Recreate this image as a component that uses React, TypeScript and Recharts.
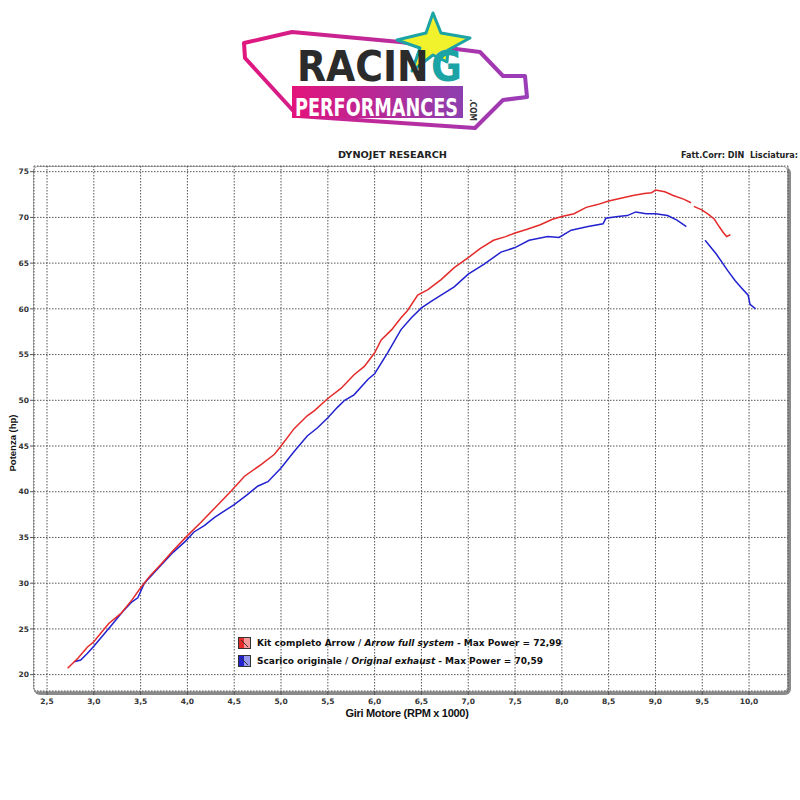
import React from 'react';
import { LineChart, Line, XAxis, YAxis, CartesianGrid, Legend } from 'recharts';

// ---- data (rpm x 1000, hp) ----
const arrowRpm = [2.72, 2.83, 2.93, 3.0, 3.08, 3.16, 3.29, 3.41, 3.5, 3.6, 3.72, 3.85, 4.0, 4.14, 4.29, 4.47, 4.61, 4.79, 4.93, 5.0, 5.14, 5.28, 5.36, 5.5, 5.64, 5.78, 5.89, 6.0, 6.07, 6.18, 6.28, 6.35, 6.46, 6.57, 6.71, 6.85, 7.0, 7.13, 7.27, 7.4, 7.5, 7.63, 7.77, 7.9, 8.0, 8.13, 8.26, 8.38, 8.5, 8.63, 8.76, 8.88, 8.96, 9.0, 9.1, 9.19, 9.3, 9.38, 9.395, 9.41, 9.5, 9.57, 9.63, 9.68, 9.72, 9.76, 9.8];
const arrowHp = [20.7, 21.8, 23.0, 23.6, 24.6, 25.6, 26.7, 28.2, 29.5, 30.8, 32.1, 33.6, 35.2, 36.6, 38.2, 40.1, 41.7, 43.0, 44.1, 45.0, 46.9, 48.3, 48.9, 50.2, 51.3, 52.8, 53.7, 55.2, 56.6, 57.7, 59.0, 59.8, 61.5, 62.1, 63.2, 64.5, 65.6, 66.6, 67.5, 67.9, 68.3, 68.7, 69.2, 69.8, 70.1, 70.4, 71.1, 71.4, 71.8, 72.1, 72.4, 72.6, 72.7, 73.0, 72.8, 72.4, 72.0, 71.6, null, 71.2, 70.8, 70.3, 69.8, 69.0, 68.4, 67.9, 68.1];

const stockRpm = [2.79, 2.86, 2.93, 3.0, 3.09, 3.18, 3.31, 3.4, 3.47, 3.54, 3.72, 3.85, 3.98, 4.07, 4.18, 4.29, 4.5, 4.63, 4.75, 4.86, 5.0, 5.14, 5.28, 5.39, 5.5, 5.6, 5.68, 5.78, 5.93, 6.0, 6.14, 6.28, 6.39, 6.5, 6.6, 6.71, 6.85, 7.0, 7.17, 7.35, 7.5, 7.65, 7.85, 7.97, 8.1, 8.28, 8.44, 8.47, 8.6, 8.7, 8.79, 8.9, 9.0, 9.13, 9.23, 9.33, 9.43, 9.53, 9.65, 9.77, 9.85, 9.91, 9.99, 10.01, 10.07];
const stockHp = [21.4, 21.6, 22.3, 23.1, 24.2, 25.3, 26.9, 27.9, 28.4, 30.0, 32.0, 33.4, 34.6, 35.6, 36.3, 37.2, 38.6, 39.6, 40.6, 41.1, 42.6, 44.4, 46.1, 47.0, 48.1, 49.2, 50.0, 50.6, 52.3, 52.9, 55.2, 57.7, 59.0, 60.1, 60.8, 61.5, 62.4, 63.8, 64.9, 66.2, 66.7, 67.5, 67.9, 67.8, 68.6, 69.0, 69.3, 69.9, 70.1, 70.2, 70.6, 70.4, 70.4, 70.2, 69.7, 69.0, null, 67.5, 66.0, 64.2, 63.1, 62.4, 61.5, 60.5, 60.0];

const xTicks = [2.5, 3.0, 3.5, 4.0, 4.5, 5.0, 5.5, 6.0, 6.5, 7.0, 7.5, 8.0, 8.5, 9.0, 9.5, 10.0];
const yTicks = [20, 25, 30, 35, 40, 45, 50, 55, 60, 65, 70, 75];
const xMinorTicks = Array.from({ length: 80 }, (_, i) => Math.round((2.4 + i * 0.1) * 10) / 10).filter((v) => v <= 10.4);
const yMinorTicks = Array.from({ length: 57 }, (_, i) => 19 + i).filter((v) => v <= 75);

const seriesNames = [
  { name: 'Kit completo Arrow', italic: 'Arrow full system', max: '72,99', color: '#e52a2a', light: '#f59a9a' },
  { name: 'Scarico originale', italic: 'Original exhaust', max: '70,59', color: '#2222d0', light: '#9a9af0' },
];

const arrowData = arrowRpm.map((r, i) => ({ rpm: r, hp: arrowHp[i] }));
const stockData = stockRpm.map((r, i) => ({ rpm: r, hp: stockHp[i] }));

const FONT = '"DejaVu Sans", Verdana, sans-serif';
const X_DOMAIN: [number, number] = [2.361, 10.416];
const Y_DOMAIN: [number, number] = [18.21, 75.62];

const fmt = (v: number) => v.toFixed(1).replace('.', ',');

const LegendContent = () => (
  <div style={{ fontFamily: FONT, fontSize: 9, fontWeight: 'bold', color: '#111', lineHeight: '18px' }}>
    {seriesNames.map((s) => (
      <div key={s.name} style={{ display: 'flex', alignItems: 'center', whiteSpace: 'nowrap' }}>
        <svg width={13} height={12} style={{ marginRight: 6 }}>
          <defs>
            <linearGradient id={'g' + s.max} x1="0" y1="0" x2="1" y2="0">
              <stop offset="0" stopColor={s.color} />
              <stop offset="0.5" stopColor={s.color} />
              <stop offset="0.5" stopColor={s.light} />
              <stop offset="1" stopColor={s.light} />
            </linearGradient>
          </defs>
          <rect x={0.5} y={0.5} width={12} height={11} fill={`url(#g${s.max})`} stroke="#333" strokeWidth={1} />
          <line x1={3} y1={3} x2={10} y2={10} stroke="#333" strokeWidth={1} />
        </svg>
        <span>{s.name} / </span>
        <span style={{ fontStyle: 'italic', marginLeft: 3 }}>{s.italic}</span>
        <span style={{ marginLeft: 3 }}>- Max Power = {s.max}</span>
      </div>
    ))}
  </div>
);

const LOGO_FONT = '"DejaVu Sans Condensed", "DejaVu Sans", sans-serif';

const Logo = () => (
  <svg width={800} height={140} style={{ position: 'absolute', left: 0, top: 0 }}>
    <defs>
      <linearGradient id="lgOutline" x1="0" y1="0" x2="1" y2="0">
        <stop offset="0" stopColor="#e0177f" />
        <stop offset="1" stopColor="#9a3db8" />
      </linearGradient>
      <linearGradient id="lgBar" x1="0" y1="0" x2="1" y2="0">
        <stop offset="0" stopColor="#e3137b" />
        <stop offset="1" stopColor="#8c3fb0" />
      </linearGradient>
    </defs>
    <polygon
      points="244,43 292,32 400,42 480,52 503,76 525,76 527,97 503,100 475,128 298,116 245,58"
      fill="white"
      stroke="url(#lgOutline)"
      strokeWidth={4}
      strokeLinejoin="round"
    />
    <polygon
      points="433,13 441,33 470,38 448,50 447,62 433,55 412,71 420,48 397,40 426,33"
      fill="#f2f22c"
      stroke="#1ba3a6"
      strokeWidth={3}
      strokeLinejoin="round"
    />
    <text x={297} y={81} fontFamily={LOGO_FONT} fontWeight="bold" fontSize={42} fill="#2b2b2b">RACIN</text>
    <text x={431} y={81} fontFamily={LOGO_FONT} fontWeight="bold" fontSize={42} fill="#1ba3a6">G</text>
    <rect x={292} y={86} width={171} height={32} fill="url(#lgBar)" />
    <text x={295} y={116} fontFamily={LOGO_FONT} fontWeight="bold" fontSize={24} fill="white" textLength={163} lengthAdjust="spacingAndGlyphs">PERFORMANCES</text>
    <text x={0} y={0} transform="translate(470,99) rotate(90)" fontFamily='"DejaVu Sans", sans-serif' fontWeight="bold" fontSize={9} fill="#333" textLength={22} lengthAdjust="spacingAndGlyphs">.COM</text>
  </svg>
);

const Header = () => (
  <svg width={800} height={170} style={{ position: 'absolute', left: 0, top: 0 }}>
    <text x={338} y={158} fontFamily={FONT} fontWeight="bold" fontSize={8} fill="#222" textLength={109} lengthAdjust="spacingAndGlyphs">DYNOJET RESEARCH</text>
    <text x={681} y={158} fontFamily={FONT} fontWeight="bold" fontSize={8} fill="#222" textLength={117} lengthAdjust="spacingAndGlyphs" xmlSpace="preserve">Fatt.Corr: DIN  Lisciatura:</text>
  </svg>
);

export default function App() {
  return (
    <div style={{ position: 'absolute', left: 0, top: 0, width: 800, height: 800, background: 'white' }}>
      <Logo />
      <Header />
      <div
        style={{
          position: 'absolute',
          left: 33,
          top: 166,
          width: 753,
          height: 524,
          border: '1px solid #aaa',
          borderRadius: 5,
          boxShadow: '2px 2px 0px 1px #8a8a8a',
        }}
      />
      <div
        style={{
          position: 'absolute',
          left: 12,
          top: 443,
          transform: 'translate(-50%, -50%) rotate(-90deg)',
          fontFamily: '"Liberation Sans", Arial, sans-serif',
          fontWeight: 'bold',
          fontSize: 9.5,
          color: '#111',
          whiteSpace: 'nowrap',
        }}
      >
        Potenza (hp)
      </div>
      <div
        style={{
          position: 'absolute',
          left: 407,
          top: 713,
          transform: 'translate(-50%, -50%)',
          fontFamily: '"Liberation Sans", Arial, sans-serif',
          fontWeight: 'bold',
          fontSize: 11,
          letterSpacing: -0.3,
          color: '#111',
          whiteSpace: 'nowrap',
        }}
      >
        Giri Motore (RPM x 1000)
      </div>
      <div style={{ position: 'absolute', left: 0, top: 0 }}>
        <LineChart width={800} height={800} margin={{ top: 166, left: 32, right: 12, bottom: 107 }}>
          <CartesianGrid stroke="#555" strokeDasharray="1.5 1.5" strokeWidth={1} />
          <XAxis
            xAxisId={0}
            dataKey="rpm"
            type="number"
            domain={X_DOMAIN}
            allowDataOverflow
            ticks={xTicks}
            interval={0}
            tickFormatter={fmt}
            height={1}
            axisLine={false}
            tickLine={{ stroke: '#555' }}
            tickSize={4}
            tickMargin={4}
            tick={{ fill: '#333', fontSize: 7.5, fontWeight: 'bold', fontFamily: FONT }}
          />
          <XAxis
            xAxisId="minor"
            dataKey="rpm"
            type="number"
            domain={X_DOMAIN}
            allowDataOverflow
            ticks={xMinorTicks}
            interval={0}
            height={1}
            axisLine={false}
            tick={false}
            tickLine={{ stroke: '#555' }}
            tickSize={3}
          />
          <YAxis
            yAxisId={0}
            type="number"
            domain={Y_DOMAIN}
            allowDataOverflow
            ticks={yTicks}
            interval={0}
            width={1}
            axisLine={false}
            tickLine={{ stroke: '#555' }}
            tickSize={4}
            tickMargin={1}
            tick={{ fill: '#333', fontSize: 7.5, fontWeight: 'bold', fontFamily: FONT }}
          />
          <YAxis
            yAxisId="minor"
            type="number"
            domain={Y_DOMAIN}
            allowDataOverflow
            ticks={yMinorTicks}
            interval={0}
            width={1}
            axisLine={false}
            tick={false}
            tickLine={{ stroke: '#555' }}
            tickSize={2}
          />
          <Line
            data={stockData}
            dataKey="hp"
            name="Scarico originale"
            stroke="#2222d0"
            strokeWidth={1.5}
            dot={false}
            isAnimationActive={false}
            connectNulls={false}
          />
          <Line
            data={arrowData}
            dataKey="hp"
            name="Kit completo Arrow"
            stroke="#e52a2a"
            strokeWidth={1.5}
            dot={false}
            isAnimationActive={false}
            connectNulls={false}
          />
          <Legend
            layout="horizontal"
            verticalAlign="middle"
            align="center"
            content={<LegendContent />}
            wrapperStyle={{ position: 'absolute', left: 238, top: 634, width: 'auto', bottom: 'auto', right: 'auto' }}
          />
        </LineChart>
      </div>
    </div>
  );
}
